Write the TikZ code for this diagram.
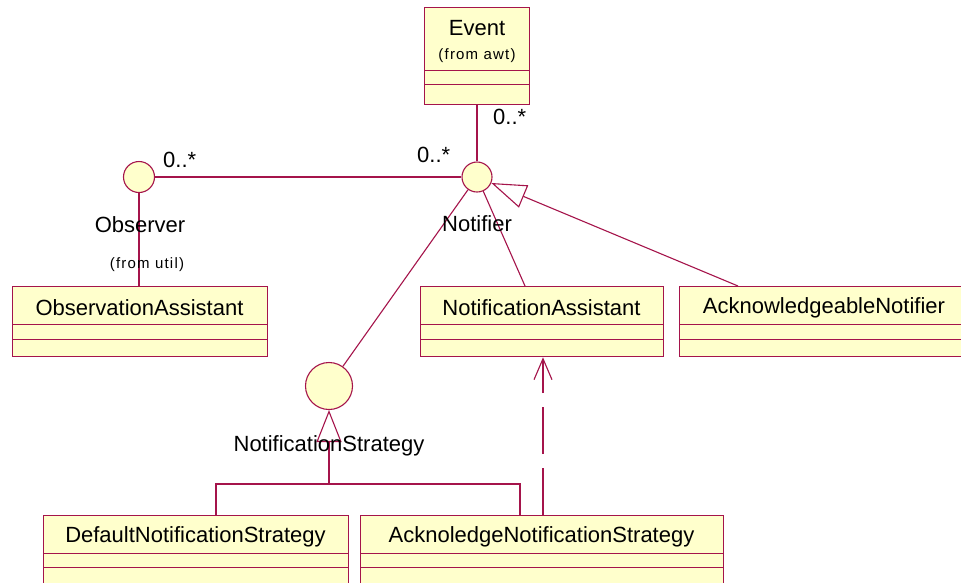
\documentclass[tikz,border=0pt]{standalone}
\usepackage{fontspec}
\setmainfont{Liberation Sans}
\newfontfamily\smallfnt[LetterSpace=8]{Liberation Sans}
\usetikzlibrary{arrows.meta}
\definecolor{umlline}{RGB}{165,20,75}
\definecolor{umlfill}{RGB}{255,255,204}
\tikzset{
  classbox/.style={draw=umlline, fill=umlfill, line width=1.3pt, rectangle, inner sep=0pt, anchor=north west},
  cline/.style={draw=umlline, line width=1pt},
  cname/.style={anchor=base, inner sep=0pt, font=\fontsize{22}{26}\selectfont},
  lbl/.style={anchor=base, inner sep=0pt, font=\fontsize{22}{26}\selectfont},
  small/.style={anchor=base, inner sep=0pt, font=\fontsize{15}{18}\smallfnt},
  iface/.style={circle, draw=umlline, fill=umlfill, line width=1.1pt, inner sep=0pt},
  assoc/.style={draw=umlline, line width=1.1pt},
  gen/.style={draw=umlline, line width=1.1pt},
  dep/.style={draw=umlline, line width=1.1pt, dash pattern=on 47pt off 14pt}
}
\newcommand\umlclass[9]{%
  \node[classbox, minimum width={#4pt-#2pt}, minimum height={#5pt-#3pt}] (#1) at (#2,#3) {};
  \draw[cline] (#2,#6) -- (#4,#6) (#2,#7) -- (#4,#7);
  \node[cname] (#1-t) at ({(#2+#4)/2},#8) {#9};
}
\begin{document}
\begin{tikzpicture}[x=1pt,y=-1pt]
\fill[white] (0,0) rectangle (961,582);
\useasboundingbox (0,0) rectangle (961,582);

% classes
\node[classbox, minimum width=105pt, minimum height=97pt] (ev) at (424,7) {};
\draw[cline] (424,70) -- (529,70) (424,84) -- (529,84);
\node[cname] (ev-t) at (477,35) {Event};
\node[small] (ev-s) at (477,59) {(from awt)};

\umlclass{oa}{12}{286}{267}{356}{324}{339}{315}{ObservationAssistant}
\umlclass{na}{420}{286}{663}{356}{324}{339}{315}{NotificationAssistant}
\umlclass{an}{679}{286}{969}{356}{324}{339}{313}{AcknowledgeableNotifier}
\umlclass{dns}{43}{515}{348}{600}{553}{567}{542}{DefaultNotificationStrategy}
\umlclass{ans}{360}{515}{723}{600}{553}{567}{542}{AcknoledgeNotificationStrategy}

% interfaces
\node[iface, minimum size=31pt] (obs) at (139,177) {};
\node[iface, minimum size=30pt] (notif) at (477,177) {};
\node[iface, minimum size=47pt] (ns) at (329,386) {};

% connectors
\draw[assoc] (obs) -- (notif);
\draw[assoc] (notif.north) -- (notif.north |- ev.south);
\draw[assoc] (obs.south) -- (obs.south |- oa.north);
\draw[assoc] (notif) -- ([xshift=105pt]na.north west);
\draw[assoc] (notif) -- (ns);
\draw[gen, -{Triangle[open, length=35pt, width=24pt]}] ([xshift=59pt]an.north west) -- (notif);

\coordinate (j) at (329,484);
\draw[gen, -{Triangle[open, length=32pt, width=25pt]}] (j) -- (ns);
\draw[gen] ([xshift=173pt]dns.north west) |- (j) -| ([xshift=160pt]ans.north west);

\coordinate (d1) at ([xshift=183pt]ans.north west);
\draw[dep, -{Straight Barb[length=21pt, width=18pt]}] (d1) -- (d1 |- na.south);

% labels
\node[lbl] (l-obs) at (140,232) {Observer};
\node[small] (l-util) at (147,268) {(from util)};
\node[lbl] (l-notif) at (477,231) {Notifier};
\node[lbl] (l-ns) at (329,451) {NotificationStrategy};
\node[lbl, anchor=base west] (m1) at (163,167) {0..*};
\node[lbl, anchor=base west] (m2) at (417,162) {0..*};
\node[lbl, anchor=base west] (m3) at (493,124) {0..*};
\end{tikzpicture}
\end{document}
